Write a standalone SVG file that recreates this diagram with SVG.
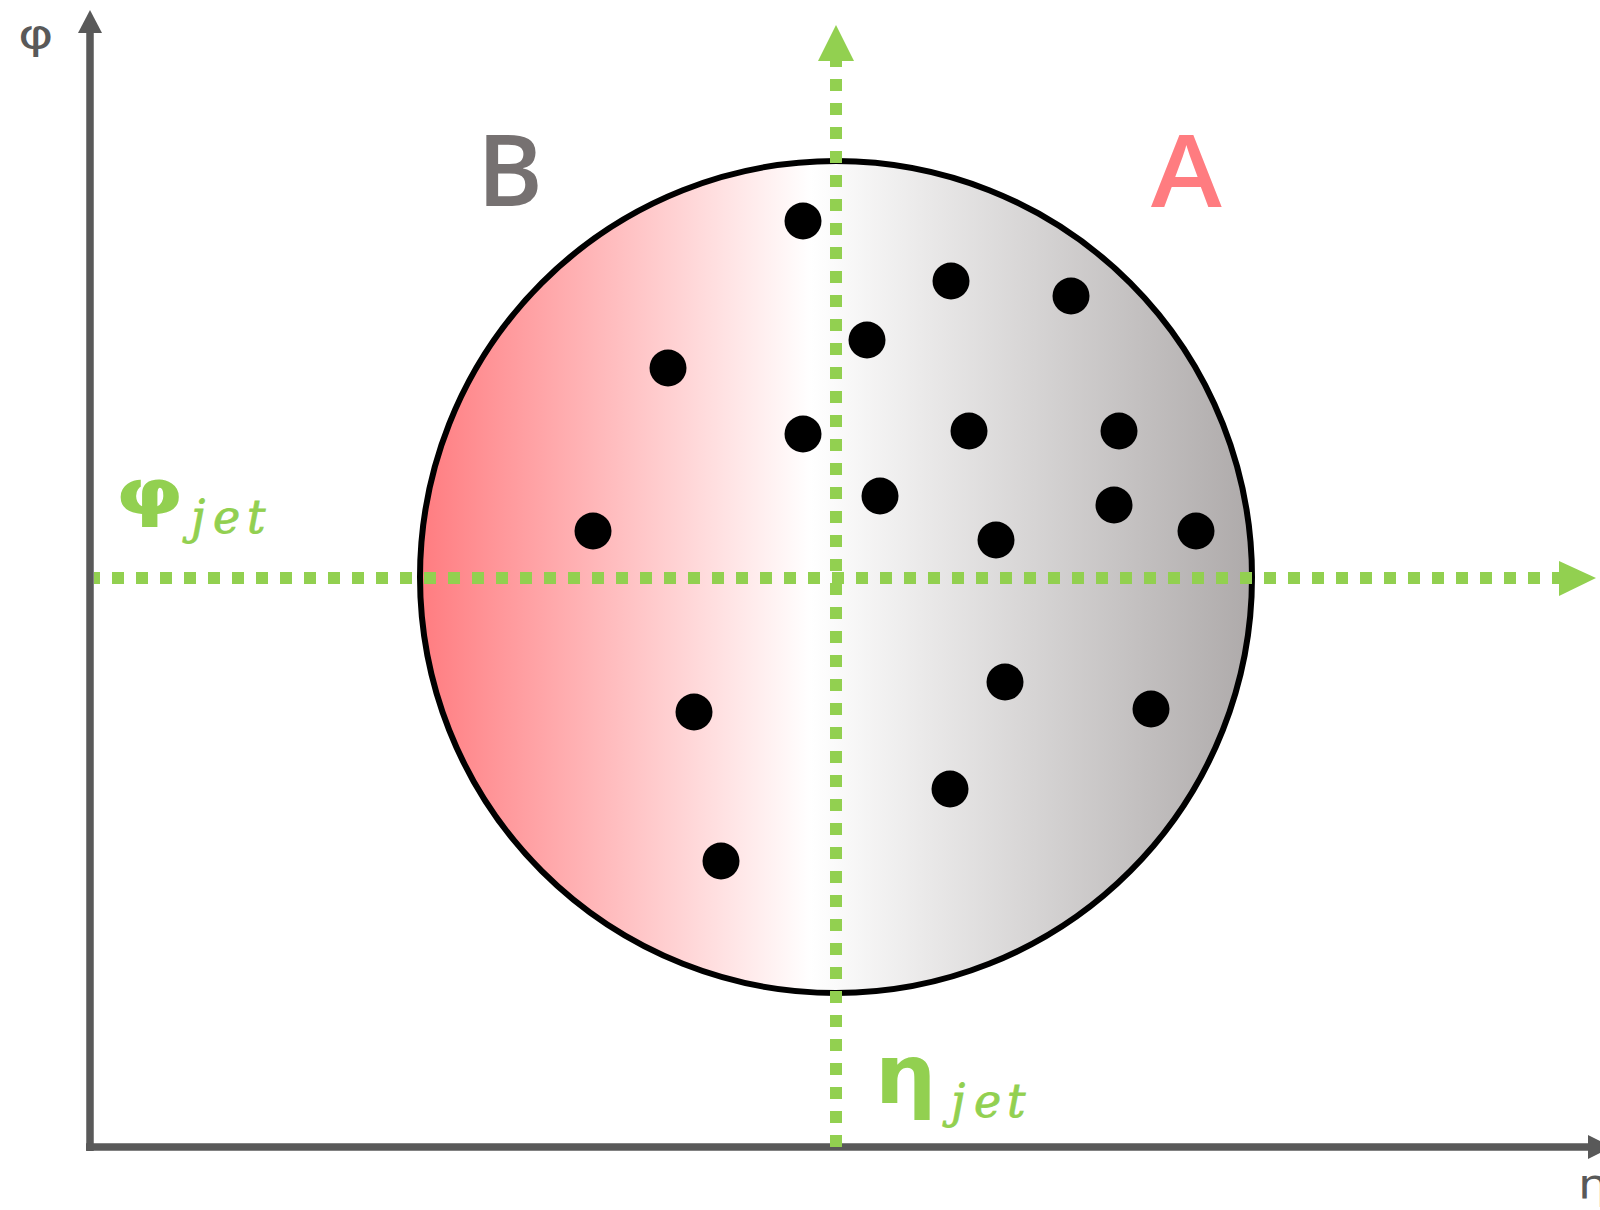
<svg xmlns="http://www.w3.org/2000/svg" width="1600" height="1210" viewBox="0 0 1600 1210">
  <style>
    .axis { stroke: #595959; stroke-width: 7.5; fill: none; }
    .axhead { fill: #595959; }
    .guide { stroke: #92D050; stroke-width: 12; stroke-dasharray: 12 12; stroke-dashoffset: 6; fill: none; }
    .ghead { fill: #92D050; }
    .dot { fill: #000000; }
    .axlabel { font-family: "DejaVu Sans", "Noto Sans", sans-serif; font-size: 40px; fill: #595959; }
    .big { font-family: "Open Sans", "Noto Sans", sans-serif; font-weight: 600; font-size: 100px; }
    .greek { font-family: "DejaVu Sans", "Noto Sans", sans-serif; font-weight: bold; fill: #92D050; }
    .sub { font-family: "DejaVu Serif", "Liberation Serif", serif; font-style: italic; font-size: 46px; fill: #92D050; stroke: #92D050; stroke-width: 0.8px; }
  </style>
  <defs>
    <linearGradient id="grad" x1="0" y1="0" x2="1" y2="0">
      <stop offset="0" stop-color="#FF7C80"/>
      <stop offset="0.47" stop-color="#FFFFFF"/>
      <stop offset="1" stop-color="#AEAAAA"/>
    </linearGradient>
  </defs>

  <g id="axes">
    <line class="axis" x1="90" y1="30" x2="90" y2="1151"/>
    <polygon class="axhead" points="90,10 102,33 78,33"/>
    <line class="axis" x1="86" y1="1147" x2="1590" y2="1147"/>
    <polygon class="axhead" points="1588,1135 1612,1147 1588,1159"/>
    <text class="axlabel" transform="translate(18,48) scale(1.35,1)">φ</text>
    <text class="axlabel" transform="translate(1578,1198) scale(1.2,1)">η</text>
  </g>

  <g id="jet-cone">
    <circle cx="836" cy="577" r="416" fill="url(#grad)" stroke="#000000" stroke-width="6"/>
  </g>

  <g id="particles">
    <circle class="dot" cx="803" cy="221" r="18.5"/>
    <circle class="dot" cx="951" cy="281" r="18.5"/>
    <circle class="dot" cx="1071" cy="296" r="18.5"/>
    <circle class="dot" cx="867" cy="340" r="18.5"/>
    <circle class="dot" cx="668" cy="368" r="18.5"/>
    <circle class="dot" cx="803" cy="434" r="18.5"/>
    <circle class="dot" cx="969" cy="431" r="18.5"/>
    <circle class="dot" cx="1119" cy="431" r="18.5"/>
    <circle class="dot" cx="880" cy="496" r="18.5"/>
    <circle class="dot" cx="593" cy="531" r="18.5"/>
    <circle class="dot" cx="996" cy="540" r="18.5"/>
    <circle class="dot" cx="1114" cy="505" r="18.5"/>
    <circle class="dot" cx="1196" cy="531" r="18.5"/>
    <circle class="dot" cx="1005" cy="682" r="18.5"/>
    <circle class="dot" cx="1151" cy="709" r="18.5"/>
    <circle class="dot" cx="694" cy="712" r="18.5"/>
    <circle class="dot" cx="950" cy="789" r="18.5"/>
    <circle class="dot" cx="721" cy="861" r="18.5"/>
  </g>

  <g id="connectors">
    <line class="guide" x1="94" y1="578" x2="1560" y2="578"/>
    <polygon class="ghead" points="1559,561 1596,578 1559,596"/>
    <line class="guide" x1="836" y1="61" x2="836" y2="1147"/>
    <polygon class="ghead" points="836,25 854,61 818,61"/>
  </g>

  <g id="label-B">
    <text class="big" x="477" y="206" fill="#767171">B</text>
  </g>
  <g id="label-A">
    <text class="big" transform="translate(1151,207) scale(1.07,1)" fill="#FF7C80">A</text>
  </g>
  <g id="label-phijet">
    <text class="greek" font-size="62" transform="translate(115,514) scale(1.42,1)">φ</text>
    <text class="sub" x="191 213 247" y="533">jet</text>
  </g>
  <g id="label-etajet">
    <text class="greek" font-size="82" transform="translate(875,1103) scale(1.05,1)">η</text>
    <text class="sub" x="951 974 1007" y="1117">jet</text>
  </g>
</svg>
